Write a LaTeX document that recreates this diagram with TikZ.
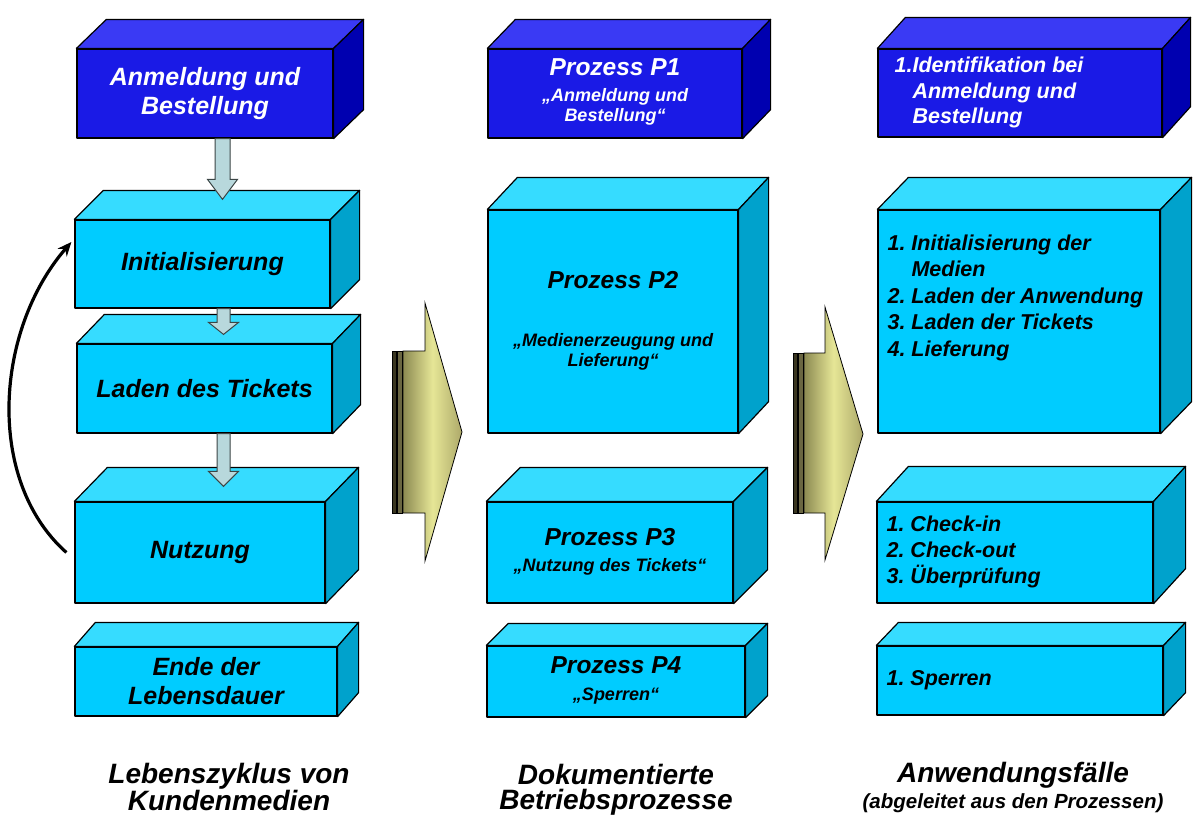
\documentclass[tikz,border=0pt]{standalone}
\usepackage{fontspec}
\setmainfont{Liberation Sans}
\usetikzlibrary{calc,arrows.meta}
\definecolor{cyanfront}{HTML}{00CCFF}
\definecolor{cyantop}{HTML}{36DCFF}
\definecolor{cyanside}{HTML}{00A2CC}
\definecolor{bluefront}{HTML}{1A1AE6}
\definecolor{bluetop}{HTML}{3A3AF4}
\definecolor{blueside}{HTML}{0000B0}
\definecolor{arrowfill}{HTML}{B8D8DC}
\definecolor{arrowedge}{HTML}{3C4646}
\definecolor{olivedark}{HTML}{8C8A52}
\definecolor{paleyellow}{HTML}{E6E696}
\definecolor{olivemid}{HTML}{ADA96A}
\definecolor{stripedark}{HTML}{3A3620}
\definecolor{stripemid}{HTML}{6A6642}
\newcommand\fbig{\fontsize{25}{29}\selectfont}
\newcommand\ftitle{\fontsize{24.5}{28}\selectfont}
\newcommand\fsmall{\fontsize{18}{20}\selectfont}
\newcommand\flist{\fontsize{21.5}{25.5}\selectfont}
% #1 name, #2 x1, #3 y1, #4 x2, #5 y2, #6 dx, #7 dy, #8 kind, #9 text
\newcommand\cuboid[9]{%
  \node[face#8, minimum width={(#4-#2)*1pt}, minimum height={(#5-#3)*1pt}] (#1) at ({(#2+#4)/2},{(#3+#5)/2}) {#9};
  \filldraw[edge, fill=#8top] (#1.north west) -- ++(#6,-#7) -- ($(#1.north east)+(#6,-#7)$) -- (#1.north east) -- cycle;
  \filldraw[edge, fill=#8side] (#1.north east) -- ($(#1.north east)+(#6,-#7)$) -- ($(#1.south east)+(#6,-#7)$) -- (#1.south east) -- cycle;
}
% #1 from node, #2 xshift, #3 to node, #4 tip above to.north, #5 half shaft, #6 half head, #7 head length
\newcommand\blockdown[7]{%
  \path[smallarrow] let \p1=(#1.south), \p2=(#3.north) in
  (\x1+#2pt-#5pt,\y1) -- (\x1+#2pt-#5pt,\y2+#4pt+#7pt) -- (\x1+#2pt-#6pt,\y2+#4pt+#7pt) -- (\x1+#2pt,\y2+#4pt)
  -- (\x1+#2pt+#6pt,\y2+#4pt+#7pt) -- (\x1+#2pt+#5pt,\y2+#4pt+#7pt) -- (\x1+#2pt+#5pt,\y1) -- cycle;
}
\begin{document}
\begin{tikzpicture}[x=1pt,y=-1pt,
  edge/.style={draw=black, line width=1.2pt, line join=round},
  faceblue/.style={edge, fill=bluefront, text=white, inner sep=0pt, align=center, font=\fbig\bfseries\itshape},
  facecyan/.style={edge, fill=cyanfront, text=black, inner sep=0pt, align=center, font=\fbig\bfseries\itshape},
  listtext/.style={inner sep=0pt, font=\flist\bfseries\itshape},
  smallarrow/.style={fill=arrowfill, draw=arrowedge, line width=1pt, line join=miter},
  bigarrow/.style={draw=black, line width=0.8pt, left color=olivedark, right color=olivemid, middle color=paleyellow},
  loopline/.style={draw=black, line width=3.2pt, -{Stealth[length=14pt,width=12pt]}},
  caption/.style={inner sep=0pt, align=center, font=\fontsize{28}{25.5}\selectfont\bfseries\itshape}
]
\useasboundingbox[fill=white] (0,0) rectangle (1199,831);

% left column
\cuboid{anm}{77}{49}{333}{138}{30}{29}{blue}{Anmeldung und\\Bestellung}
\cuboid{init}{75}{220}{330}{308}{29}{29}{cyan}{Initialisierung}
\cuboid{laden}{77}{344}{332}{433}{28}{29}{cyan}{Laden des Tickets}
\cuboid{nutz}{75}{502}{325}{603}{33}{34}{cyan}{Nutzung}
\cuboid{ende}{75}{647}{337}{716}{21}{24}{cyan}{Ende der\\Lebensdauer}

\blockdown{anm}{17.5}{init}{20}{7.5}{15}{20}
\blockdown{init}{21}{laden}{9}{6.5}{15}{12}
\blockdown{laden}{19}{nutz}{15}{6.5}{15}{15}

\draw[loopline] ($(nutz.west)+(-8,0)$) .. controls (-15,480) and (-5,330) .. ($(init.west)+(-3,-22)$);

% middle column
\cuboid{p1}{488}{49}{742}{138}{28}{29}{blue}{\fsmall\begin{tabular}{@{}c@{}}\ftitle Prozess P1\\[6pt]\fsmall „Anmeldung und\\\fsmall Bestellung“\end{tabular}}
\cuboid{p2}{488}{210}{738}{433}{30}{32}{cyan}{\fsmall\begin{tabular}{@{}c@{}}\ftitle Prozess P2\\[38pt]\fsmall „Medienerzeugung und\\\fsmall Lieferung“\end{tabular}}
\cuboid{p3}{487}{502}{733}{603}{34}{34}{cyan}{\fsmall\begin{tabular}{@{}c@{}}\ftitle Prozess P3\\[6pt]\fsmall „Nutzung des Tickets“\end{tabular}}
\cuboid{p4}{487}{646}{745}{717}{22}{22}{cyan}{\fsmall\begin{tabular}{@{}c@{}}\ftitle Prozess P4\\[7pt]\fsmall „Sperren“\end{tabular}}

% right column
\cuboid{r1}{878}{49}{1162}{137}{28}{31}{blue}{}
\cuboid{r2}{878}{210}{1160}{433}{31}{32}{cyan}{}
\cuboid{r3}{877}{502}{1153}{603}{32}{35}{cyan}{}
\cuboid{r4}{877}{646}{1163}{715}{22}{23}{cyan}{}

\node[listtext, text=white, anchor=west] (r1t) at ($(r1.west)+(17,0)$)
  {\flist\begin{tabular}{@{}l@{}l@{}}1.&Identifikation bei\\&Anmeldung und\\&Bestellung\end{tabular}};
\node[listtext, anchor=north west] (r2t) at ($(r2.north west)+(10,22)$)
  {\fontsize{21.5}{26.5}\selectfont\begin{tabular}{@{}l@{\ }l@{}}1.&Initialisierung der\\&Medien\\2.&Laden der Anwendung\\3.&Laden der Tickets\\4.&Lieferung\end{tabular}};
\node[listtext, anchor=west] (r3t) at ($(r3.west)+(10,0)$)
  {\flist\begin{tabular}{@{}l@{\ }l@{}}1.&Check-in\\2.&Check-out\\3.&Überprüfung\end{tabular}};
\node[listtext, anchor=west] (r4t) at ($(r4.west)+(10,0)$)
  {\flist\begin{tabular}{@{}l@{\ }l@{}}1.&Sperren\end{tabular}};

% big arrows
\fill[stripedark, draw=black, line width=0.6pt] (392,351) rectangle (396,513);
\fill[stripemid, draw=black, line width=0.6pt] (397,351) rectangle (402,513);
\path[bigarrow] (403,351) -- (425,351) -- (425,303) -- (462,432) -- (425,561) -- (425,513) -- (403,513) -- cycle;
\fill[stripedark, draw=black, line width=0.6pt] (793,353) rectangle (797,513);
\fill[stripemid, draw=black, line width=0.6pt] (798,353) rectangle (803,513);
\path[bigarrow] (804,353) -- (825,353) -- (825,307) -- (863,434) -- (825,560) -- (825,513) -- (804,513) -- cycle;

% captions
\node[caption] (c1) at (229,787) {Lebenszyklus von\\Kundenmedien};
\node[caption] (c2) at (616,789.5) {Dokumentierte\\Betriebsprozesse};
\node[inner sep=0pt, font=\bfseries\itshape] (c3) at (1013,789)
  {\fontsize{20.5}{25.5}\selectfont\begin{tabular}{@{}c@{}}\fontsize{28}{26}\selectfont Anwendungsfälle\\\fontsize{20.5}{22}\selectfont (abgeleitet aus den Prozessen)\end{tabular}};
\end{tikzpicture}
\end{document}
